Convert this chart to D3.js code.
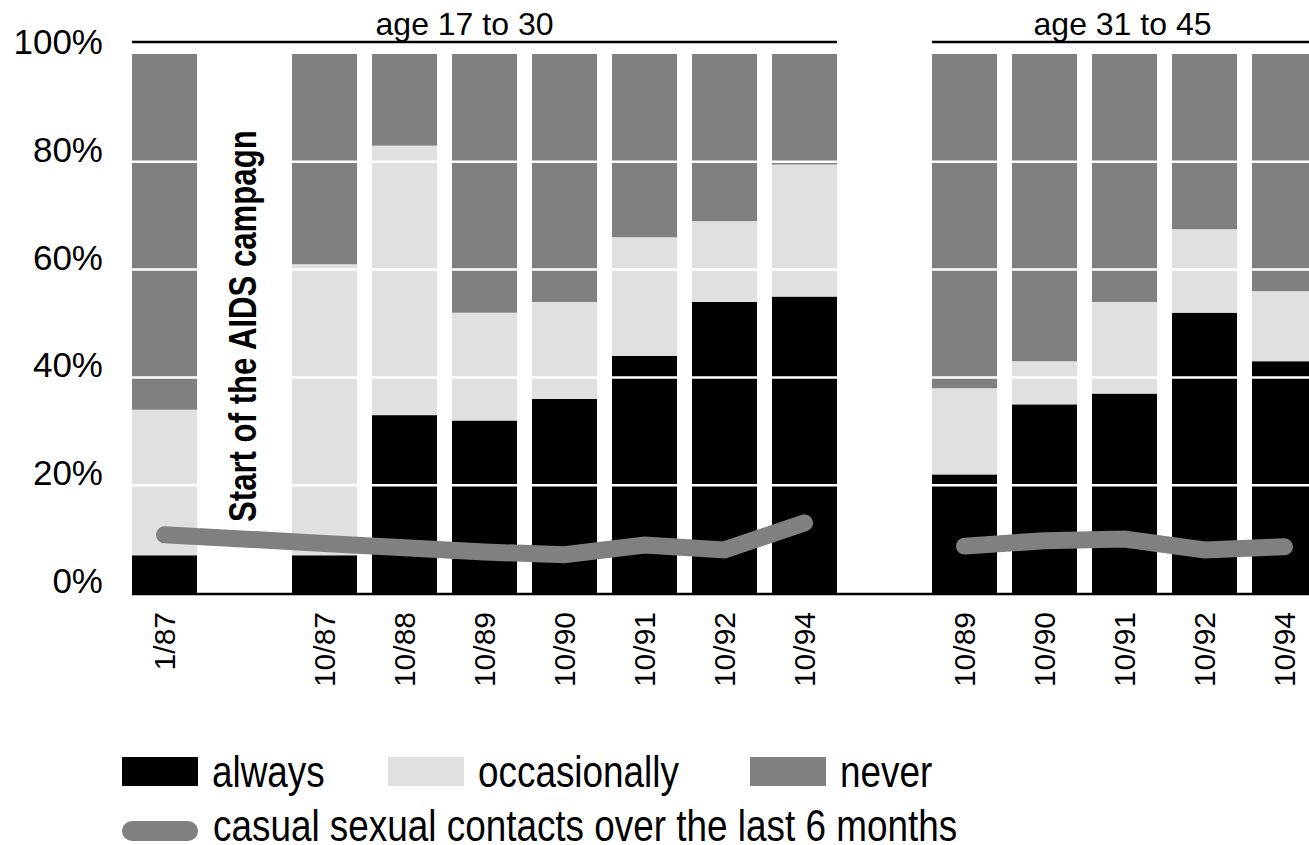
<!DOCTYPE html>
<html>
<head>
<meta charset="utf-8">
<script src="https://cdn.jsdelivr.net/npm/d3@7"></script>
<style>
  body { margin: 0; background: #fff; }
  svg { display: block; }
</style>
</head>
<body>
<div id="chart"></div>
<script>
// data (percent of respondents)
const groupA = ["1/87", "10/87", "10/88", "10/89", "10/90", "10/91", "10/92", "10/94"];
const alwaysA = [7, 7, 33, 32, 36, 44, 54, 55];
const occasionallyA = [27, 54, 50, 20, 18, 22, 15, 24.5];
const neverA = [66, 39, 17, 48, 46, 34, 31, 20.5];
const casualA = [10.8, 9.2, 8.4, 7.6, 7.1, 8.9, 8.0, 13.0];

const groupB = ["10/89", "10/90", "10/91", "10/92", "10/94"];
const alwaysB = [22, 35, 37, 52, 43];
const occasionallyB = [16, 8, 17, 15.5, 13];
const neverB = [62, 57, 46, 32.5, 44];
const casualB = [8.7, 9.7, 10.0, 8.0, 8.6];

const groupTitles = ["age 17 to 30", "age 31 to 45"];
const campaignLabel = "Start of the AIDS campagn";
const yTicks = [0, 20, 40, 60, 80, 100];
const legendItems = ["always", "occasionally", "never"];
const lineLabel = "casual sexual contacts over the last 6 months";

const width = 1309, height = 845;
const colors = { always: "#000", occasionally: "#e0e0e0", never: "#808080" };
const font = "'Liberation Sans', Arial, sans-serif";
const squeeze = 0.82; // no condensed face installed, so narrow the regular one

// rows: one per bar
const rowsA = groupA.map((c, i) => ({ key: "A:" + c, label: c, always: alwaysA[i], occasionally: occasionallyA[i], never: neverA[i], casual: casualA[i] }));
const rowsB = groupB.map((c, i) => ({ key: "B:" + c, label: c, always: alwaysB[i], occasionally: occasionallyB[i], never: neverB[i], casual: casualB[i] }));

// slot layout: empty slot for the campaign text, and one between the age groups
const slots = [rowsA[0].key, "campaign", ...rowsA.slice(1).map(d => d.key), "break", ...rowsB.map(d => d.key)];

const x = d3.scaleBand().domain(slots).range([132, 1317]).paddingInner(0.1875).paddingOuter(0);
const y = d3.scaleLinear().domain([0, 100]).range([593, 54]);
const bw = x.bandwidth();

const svg = d3.select("#chart").append("svg")
  .attr("width", width)
  .attr("height", height);

const stack = d3.stack().keys(["always", "occasionally", "never"]);
const rows = [...rowsA, ...rowsB];
const series = stack(rows);

// bars
svg.append("g")
  .selectAll("g")
  .data(series)
  .join("g")
  .attr("fill", s => colors[s.key])
  .selectAll("rect")
  .data(s => s)
  .join("rect")
  .attr("x", d => x(d.data.key))
  .attr("width", bw)
  .attr("y", d => y(d[1]))
  .attr("height", d => y(d[0]) - y(d[1]));

// white grid lines over the bars
svg.append("g")
  .selectAll("line")
  .data(yTicks.filter(t => t > 0 && t < 100))
  .join("line")
  .attr("x1", 132).attr("x2", width)
  .attr("y1", d => y(d)).attr("y2", d => y(d))
  .attr("stroke", "#fff")
  .attr("stroke-width", 2.5);

// baseline
svg.append("line")
  .attr("x1", 132).attr("x2", width)
  .attr("y1", y(0) + 1).attr("y2", y(0) + 1)
  .attr("stroke", "#000")
  .attr("stroke-width", 2.5);

// y labels
svg.append("g")
  .selectAll("text")
  .data(yTicks)
  .join("text")
  .attr("x", 103)
  .attr("y", d => y(d))
  .attr("text-anchor", "end")
  .style("font-family", font)
  .style("font-size", "35px")
  .text(d => d + "%");

// x labels, rotated
svg.append("g")
  .selectAll("text")
  .data(rows)
  .join("text")
  .attr("transform", d => `translate(${x(d.key) + bw / 2},612) rotate(-90)`)
  .attr("dy", "0.36em")
  .attr("text-anchor", "end")
  .style("font-family", font)
  .style("font-size", "30px")
  .text(d => d.label);

// campaign note
svg.append("text")
  .attr("transform", `translate(${x("campaign") + bw / 2 - 2},522) rotate(-90) scale(${squeeze},1)`)
  .attr("dy", "0.36em")
  .style("font-family", font)
  .style("font-weight", "bold")
  .style("font-size", "38px")
  .text(campaignLabel);

// casual contacts line, one per age group
const line = d3.line()
  .x(d => x(d.key) + bw / 2)
  .y(d => y(d.casual));

svg.append("g")
  .selectAll("path")
  .data([rowsA, rowsB])
  .join("path")
  .attr("d", line)
  .attr("fill", "none")
  .attr("stroke", "#808080")
  .attr("stroke-width", 17)
  .attr("stroke-linecap", "round");

// group headers
const groups = [
  { title: groupTitles[0], x0: x(rowsA[0].key), x1: x(rowsA[rowsA.length - 1].key) + bw },
  { title: groupTitles[1], x0: x(rowsB[0].key), x1: x(rowsB[rowsB.length - 1].key) + bw }
];
const head = svg.append("g").selectAll("g").data(groups).join("g");
head.append("line")
  .attr("x1", d => d.x0).attr("x2", d => d.x1)
  .attr("y1", 42).attr("y2", 42)
  .attr("stroke", "#000")
  .attr("stroke-width", 2.5);
head.append("text")
  .attr("x", (d, i) => (d.x0 + d.x1) / 2 - (i === 0 ? 20 : 2))
  .attr("y", 35)
  .attr("text-anchor", "middle")
  .style("font-family", font)
  .style("font-size", "32px")
  .text(d => d.title);

// legend
const legendX = [122, 388, 750];
const leg = svg.append("g").selectAll("g").data(legendItems).join("g")
  .attr("transform", (d, i) => `translate(${legendX[i]},0)`);
leg.append("rect")
  .attr("y", 757).attr("width", 76).attr("height", 29)
  .attr("fill", d => colors[d]);
leg.append("text")
  .attr("transform", `translate(90,787) scale(${squeeze},1)`)
  .style("font-family", font)
  .style("font-size", "45px")
  .text(d => d);

svg.append("line")
  .attr("x1", 132).attr("x2", 188)
  .attr("y1", 831).attr("y2", 831)
  .attr("stroke", "#808080")
  .attr("stroke-width", 20)
  .attr("stroke-linecap", "round");
svg.append("text")
  .attr("transform", `translate(213,841) scale(${squeeze},1)`)
  .style("font-family", font)
  .style("font-size", "45px")
  .text(lineLabel);
</script>
</body>
</html>
